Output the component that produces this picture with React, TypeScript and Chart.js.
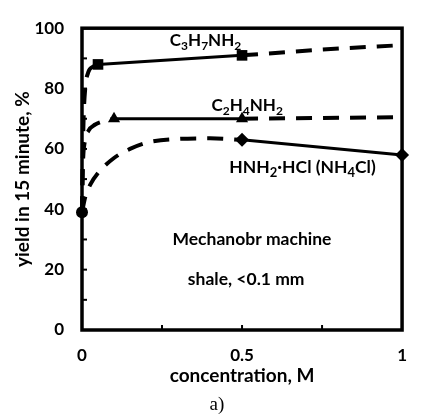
import React, { useEffect, useRef } from 'react';
import { Chart, registerables } from 'chart.js';

Chart.register(...registerables);

// ---- data ----
const xTickValues = [0, 0.5, 1];
const yTickValues = [0, 20, 40, 60, 80, 100];

// C3H7NH2
const c3X = [0.05, 0.5];
const c3Y = [88, 91];
const c3FitX = [0, 0.002, 0.005, 0.01, 0.02, 0.035, 0.05];
const c3FitY = [39, 55, 70, 80, 85.5, 87.3, 88];
const c3ExtX = [0.5, 0.75, 1];
const c3ExtY = [91, 92.9, 94.4];

// C2H4NH2
const c2X = [0.1, 0.5];
const c2Y = [70, 70];
const c2FitX = [0, 0.003, 0.008, 0.02, 0.04, 0.07, 0.1];
const c2FitY = [39, 55, 62, 66, 68, 69.3, 70];
const c2ExtX = [0.5, 1];
const c2ExtY = [70, 70.5];

// HNH2·HCl (NH4Cl)
const hX = [0.5, 1];
const hY = [63, 58];
const hFitX = [0, 0.01, 0.025, 0.05, 0.1, 0.15, 0.2, 0.3, 0.4, 0.5];
const hFitY = [39, 44, 48, 52, 57, 60, 62, 63.3, 63.5, 63];

// start point (no reagent)
const startX = [0];
const startY = [39];

// rich labels: [text, isSubscript]
const labelC3: [string, boolean][] = [['C', false], ['3', true], ['H', false], ['7', true], ['NH', false], ['2', true]];
const labelC2: [string, boolean][] = [['C', false], ['2', true], ['H', false], ['4', true], ['NH', false], ['2', true]];
const labelH: [string, boolean][] = [['HNH', false], ['2', true], ['·HCl (NH', false], ['4', true], ['Cl)', false]];
const labelMech: [string, boolean][] = [['Mechanobr machine', false]];
const labelShale: [string, boolean][] = [['shale, <0.1 mm', false]];

const FONT = 'Lato';

const zip = (xs: number[], ys: number[]) => xs.map((x, i) => ({ x, y: ys[i] }));

function drawRich(ctx: CanvasRenderingContext2D, parts: [string, boolean][], cx: number, base: number, size: number) {
  const subSize = Math.round(size * 0.72);
  const mainF = `bold ${size}px ${FONT}`;
  const subF = `bold ${subSize}px ${FONT}`;
  let total = 0;
  parts.forEach(([t, s]) => {
    ctx.font = s ? subF : mainF;
    total += ctx.measureText(t).width;
  });
  let x = cx - total / 2;
  ctx.textAlign = 'left';
  ctx.textBaseline = 'alphabetic';
  ctx.fillStyle = '#000';
  parts.forEach(([t, s]) => {
    ctx.font = s ? subF : mainF;
    ctx.fillText(t, x, s ? base + size * 0.25 : base);
    x += ctx.measureText(t).width;
  });
}

const annotations = [
  { parts: labelC3, x: 0.386, y: 94.2, size: 17 },
  { parts: labelC2, x: 0.516, y: 72.5, size: 17 },
  { parts: labelH, x: 0.689, y: 52.1, size: 17.5 },
  { parts: labelMech, x: 0.531, y: 28.1, size: 17.5 },
  { parts: labelShale, x: 0.513, y: 14.9, size: 17.5 },
];

const decorPlugin = {
  id: 'decor',
  beforeDatasetsDraw(chart: any) {
    const { ctx, chartArea: a, scales } = chart;
    const xs = scales.x;
    const ys = scales.y;
    ctx.save();
    ctx.strokeStyle = '#000';
    ctx.lineWidth = 3.5;
    ctx.strokeRect(a.left, a.top, a.right - a.left, a.bottom - a.top);
    ctx.lineWidth = 2;
    for (let v = 10; v < 100; v += 10) {
      const py = ys.getPixelForValue(v);
      ctx.beginPath();
      ctx.moveTo(a.left, py);
      ctx.lineTo(a.left + 5, py);
      ctx.stroke();
    }
    [0.25, 0.5, 0.75].forEach((v) => {
      const px = xs.getPixelForValue(v);
      ctx.beginPath();
      ctx.moveTo(px, a.bottom);
      ctx.lineTo(px, a.bottom - 5);
      ctx.stroke();
    });
    ctx.restore();
  },
  afterDraw(chart: any) {
    const { ctx, scales } = chart;
    ctx.save();
    annotations.forEach((an) => {
      drawRich(ctx, an.parts, scales.x.getPixelForValue(an.x), scales.y.getPixelForValue(an.y), an.size);
    });
    ctx.font = '19px "Liberation Serif"';
    ctx.textAlign = 'center';
    ctx.textBaseline = 'alphabetic';
    ctx.fillStyle = '#000';
    ctx.fillText('a)', 217, 410);
    ctx.restore();
  },
};

const dashed = (data: { x: number; y: number }[]) => ({
  data,
  showLine: true,
  borderColor: '#000',
  borderWidth: 4,
  borderDash: [16, 11],
  pointRadius: 0,
  cubicInterpolationMode: 'monotone' as const,
  clip: false as any,
});

const solid = (data: { x: number; y: number }[], style: string, radius: number) => ({
  data,
  showLine: true,
  borderColor: '#000',
  backgroundColor: '#000',
  borderWidth: 3,
  pointStyle: style,
  pointRadius: radius,
  pointBackgroundColor: '#000',
  pointBorderColor: '#000',
  pointBorderWidth: 0,
  clip: false as any,
});

export default function App() {
  const ref = useRef<HTMLCanvasElement | null>(null);
  useEffect(() => {
    if (!ref.current) return;
    const chart = new Chart(ref.current, {
      type: 'scatter',
      data: {
        datasets: [
          dashed(zip(c3FitX, c3FitY)),
          dashed(zip(c3ExtX, c3ExtY)),
          dashed(zip(c2FitX, c2FitY)),
          dashed(zip(c2ExtX, c2ExtY)),
          dashed(zip(hFitX, hFitY)),
          solid(zip(c3X, c3Y), 'rect', 7.5),
          solid(zip(c2X, c2Y), 'triangle', 7),
          solid(zip(hX, hY), 'rectRot', 7),
          solid(zip(startX, startY), 'circle', 6),
        ] as any,
      },
      plugins: [decorPlugin],
      options: {
        responsive: false,
        animation: false,
        layout: { padding: { left: 0, right: 6, top: 17, bottom: 0 } },
        plugins: { legend: { display: false }, tooltip: { enabled: false } },
        scales: {
          x: {
            type: 'linear',
            min: 0,
            max: 1,
            afterFit: (s: any) => { s.height = 84; },
            afterBuildTicks: (s: any) => { s.ticks = xTickValues.map((v) => ({ value: v })); },
            grid: { display: false, drawTicks: false },
            border: { display: false },
            ticks: {
              color: '#000',
              padding: 15,
              font: { family: FONT, size: 17, weight: 'bold' },
              callback: (v: any) => String(v),
            },
            title: {
              display: true,
              text: 'concentration, M',
              color: '#000',
              font: { family: FONT, size: 19, weight: 'bold' },
              padding: { top: 0, bottom: 27 },
            },
          },
          y: {
            type: 'linear',
            min: 0,
            max: 100,
            afterFit: (s: any) => { s.width = 82; },
            afterBuildTicks: (s: any) => { s.ticks = yTickValues.map((v) => ({ value: v })); },
            grid: { display: false, drawTicks: false },
            border: { display: false },
            ticks: {
              color: '#000',
              padding: 18,
              font: { family: FONT, size: 17, weight: 'bold' },
            },
            title: {
              display: true,
              text: 'yield in 15 minute, %',
              color: '#000',
              font: { family: FONT, size: 19, weight: 'bold' },
              padding: { top: 11, bottom: 0 },
            },
          },
        },
      } as any,
    });
    return () => chart.destroy();
  }, []);
  return (
    <div style={{ position: 'absolute', left: 0, top: 0, width: 422, height: 414, background: '#fff' }}>
      <canvas ref={ref} width={422} height={414} />
    </div>
  );
}
